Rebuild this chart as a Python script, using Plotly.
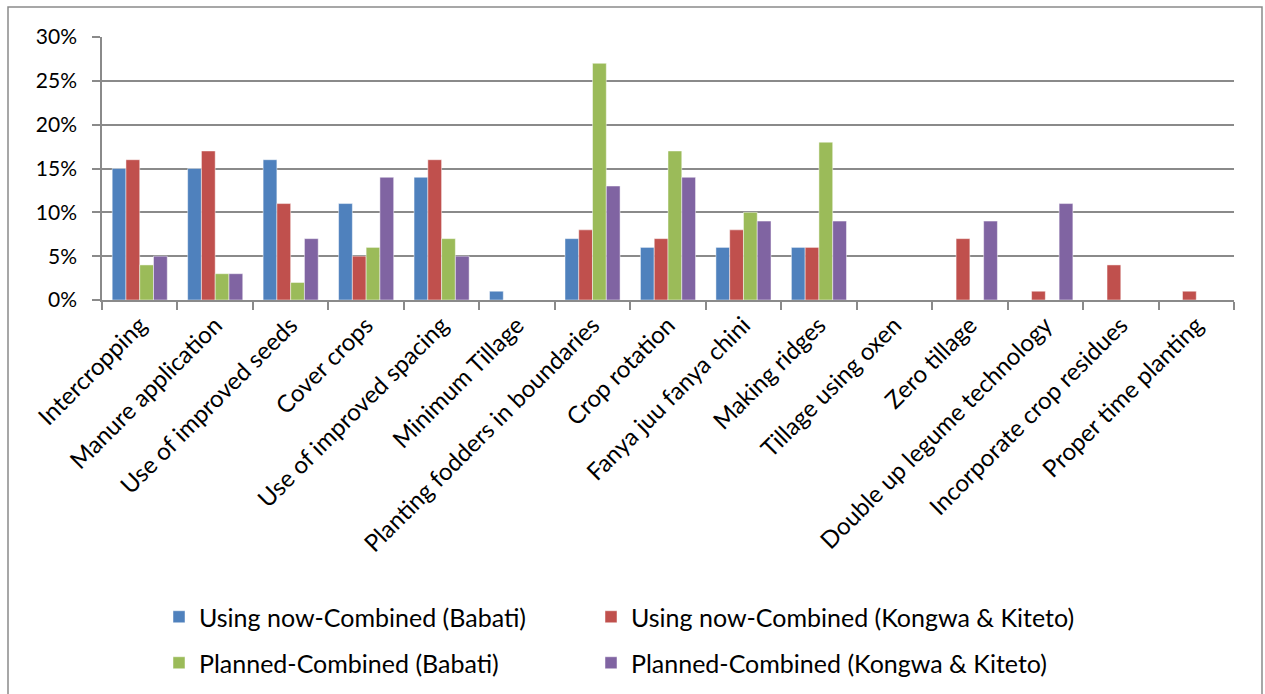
import plotly.graph_objects as go

categories = [
    "Intercropping", "Manure application", "Use of improved seeds", "Cover crops",
    "Use of improved spacing", "Minimum Tillage", "Planting fodders in boundaries",
    "Crop rotation", "Fanya juu fanya chini", "Making ridges", "Tillage using oxen",
    "Zero tillage", "Double up legume technology", "Incorporate crop residues",
    "Proper time planting",
]
using_babati = [15, 15, 16, 11, 14, 1, 7, 6, 6, 6, 0, 0, 0, 0, 0]
using_kongwa = [16, 17, 11, 5, 16, 0, 8, 7, 8, 6, 0, 7, 1, 4, 1]
planned_babati = [4, 3, 2, 6, 7, 0, 27, 17, 10, 18, 0, 0, 0, 0, 0]
planned_kongwa = [5, 3, 7, 14, 5, 0, 13, 14, 9, 9, 0, 9, 11, 0, 0]

# name, values, colour, legend id, legend anchor (px x, px y)
series = [
    ("Using now-Combined (Babati)", using_babati, "#4F81BD", "legend", (159, 617)),
    ("Using now-Combined (Kongwa & Kiteto)", using_kongwa, "#C0504D", "legend2", (591, 617)),
    ("Planned-Combined (Babati)", planned_babati, "#9BBB59", "legend3", (159, 663)),
    ("Planned-Combined (Kongwa & Kiteto)", planned_kongwa, "#8064A2", "legend4", (591, 663)),
]

W, H = 1265, 694
L, R, T, B = 102, 31, 37, 394
FONT = "Lato"

pw, ph = W - L - R, H - T - B

def px_x(p):
    return (p - L) / pw

def px_y(p):
    return (H - B - p) / ph

fig = go.Figure()
legends = {}
for name, vals, color, leg, (lx, ly) in series:
    fig.add_trace(go.Bar(
        x=categories, y=vals, name=name, legend=leg, showlegend=True,
        marker=dict(color=color, line=dict(color="rgba(255,255,255,0.6)", width=0.8)),
    ))
    legends[leg] = dict(
        orientation="h", xanchor="left", yanchor="middle",
        xref="container", yref="container",
        x=lx / W, y=1 - ly / H,
        font=dict(family=FONT, size=25, color="#000"),
        bgcolor="rgba(0,0,0,0)", itemclick=False, visible=True,
    )

fig.add_shape(type="rect", xref="paper", yref="paper",
              x0=px_x(8), x1=px_x(1262), y0=px_y(700), y1=px_y(7),
              line=dict(color="#8a8a8a", width=1.5), fillcolor="rgba(0,0,0,0)", layer="below")

fig.update_layout(
    width=W, height=H,
    margin=dict(l=L, r=R, t=T, b=B, autoexpand=False),
    paper_bgcolor="white", plot_bgcolor="white",
    showlegend=True,
    barmode="group", bargap=0.27, bargroupgap=0,
    font=dict(family=FONT, color="#000"),
    **legends,
    xaxis=dict(
        tickangle=-45, tickfont=dict(family=FONT, size=24, color="#000"),
        showline=True, linecolor="#8a8a8a", linewidth=1.5,
        ticks="outside", tickson="boundaries", ticklen=8, tickcolor="#8a8a8a", tickwidth=1.5,
        showgrid=False, mirror=False,
    ),
    yaxis=dict(
        range=[0, 30], dtick=5, ticksuffix="%",
        tickfont=dict(family=FONT, size=21, color="#000"),
        showline=True, linecolor="#8a8a8a", linewidth=1.5,
        ticks="outside", ticklen=8, tickcolor="#8a8a8a", tickwidth=1.5,
        ticklabelstandoff=11,
        showgrid=True, gridcolor="#8a8a8a", gridwidth=1.5,
        zeroline=False,
    ),
)

fig.write_html("out.html")
